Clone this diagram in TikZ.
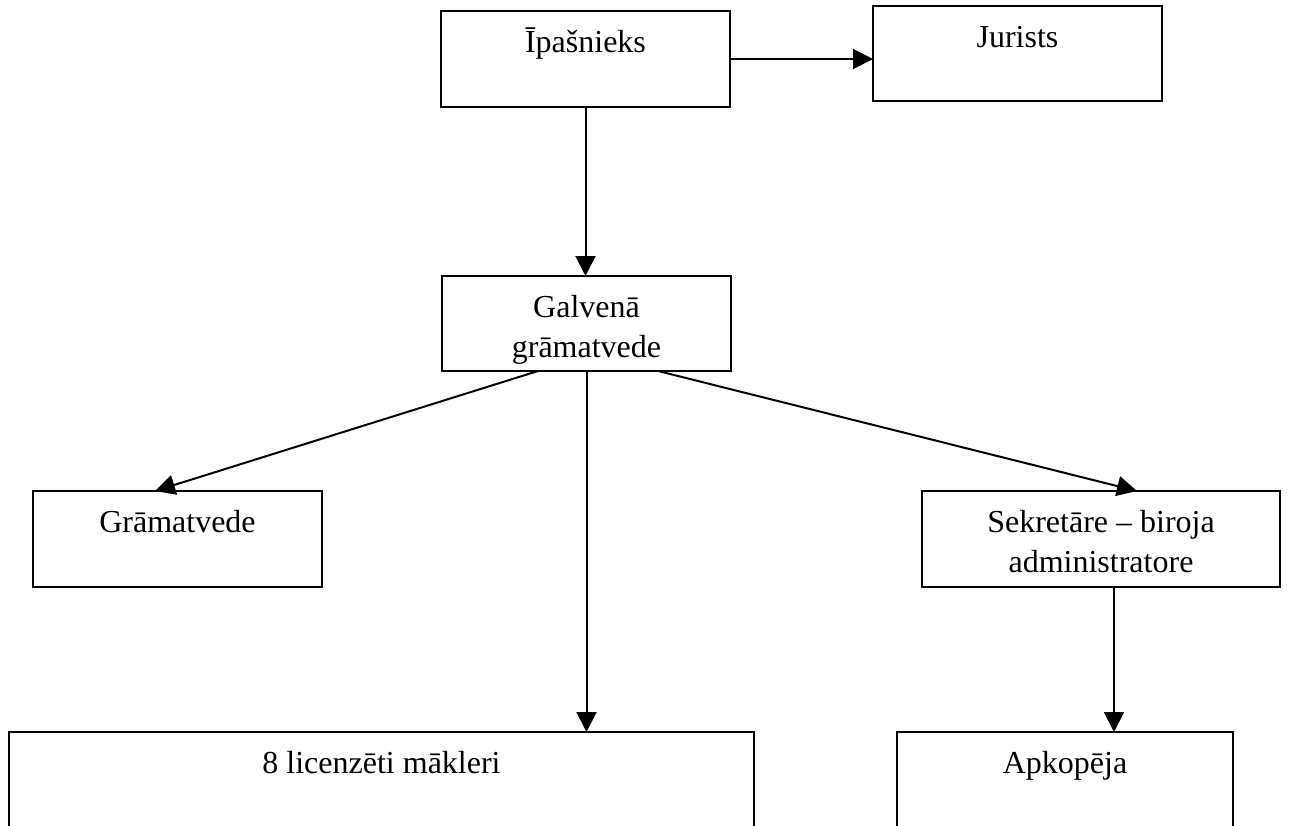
\documentclass[tikz,border=0pt]{standalone}
\usepackage{fontspec}
\setmainfont{Liberation Serif}
\usetikzlibrary{arrows.meta,positioning}
\begin{document}
\begin{tikzpicture}[x=1pt,y=-1pt,
  kaste/.style={draw,line width=2pt,inner sep=0pt,outer sep=0pt,minimum height=96pt},
  teksts/.style={inner sep=0pt,align=center,font=\fontsize{32}{40}\selectfont},
  bulta/.style={line width=2pt,-{Triangle[length=20pt,width=20pt]}}]
\useasboundingbox (0,0) rectangle (1291,825);
\node[kaste,minimum width=289pt] (ipasnieks) at (585.5,59) {};
\node[kaste,minimum width=289pt,minimum height=95pt] (jurists) at (1017.5,53.5) {};
\node[kaste,minimum width=289pt,minimum height=95pt] (galvena) at (586.5,323.5) {};
\node[kaste,minimum width=289pt] (gramatvede) at (177.5,539) {};
\node[kaste,minimum width=358pt] (sekretare) at (1101,539) {};
\node[kaste,minimum width=745pt] (makleri) at (381.5,780) {};
\node[kaste,minimum width=336pt] (apkopeja) at (1065,780) {};
\node[teksts,below=41pt of ipasnieks.north,anchor=base] {Īpašnieks};
\node[teksts,below=41pt of jurists.north,anchor=base] {Jurists};
\node[teksts,below=81pt of galvena.north,anchor=base] {Galvenā\\grāmatvede};
\node[teksts,below=41pt of gramatvede.north,anchor=base] {Grāmatvede};
\node[teksts,below=81pt of sekretare.north,anchor=base] {Sekretāre – biroja\\administratore};
\node[teksts,below=41pt of makleri.north,anchor=base] {8 licenzēti mākleri};
\node[teksts,below=41pt of apkopeja.north,anchor=base] {Apkopēja};
\draw[bulta] (ipasnieks.east) -- (ipasnieks.east -| jurists.west);
\draw[bulta] (ipasnieks.south) -- (ipasnieks.south |- galvena.north);
\draw[bulta] ([xshift=-48.5pt]galvena.south) -- ([xshift=-22.5pt]gramatvede.north);
\draw[bulta] (galvena.south) -- (galvena.south |- makleri.north);
\draw[bulta] ([xshift=71.5pt]galvena.south) -- ([xshift=36pt]sekretare.north);
\draw[bulta] ([xshift=13pt]sekretare.south) -- ([xshift=13pt]sekretare.south |- apkopeja.north);
\end{tikzpicture}
\end{document}
